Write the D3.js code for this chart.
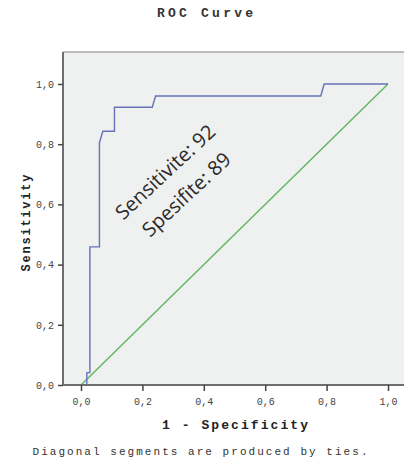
<!DOCTYPE html>
<html>
<head>
<meta charset="utf-8">
<script src="https://cdn.jsdelivr.net/npm/d3@7"></script>
<style>
  html, body { margin: 0; padding: 0; background: #fff; }
</style>
</head>
<body>
<div id="chart"></div>
<script>
// ROC curve (SPSS style)
const fpr = [0.019, 0.019, 0.029, 0.029, 0.060, 0.060, 0.071, 0.109, 0.109, 0.232, 0.243, 0.781, 0.792, 1.0];
const tpr = [0.0,   0.041, 0.041, 0.459, 0.459, 0.805, 0.843, 0.843, 0.923, 0.923, 0.960, 0.960, 1.0,   1.0];
const diagX = [0, 1];
const diagY = [0, 1];
const tickValues = [0, 0.2, 0.4, 0.6, 0.8, 1.0];
const tickLabels = ['0,0', '0,2', '0,4', '0,6', '0,8', '1,0'];
const annotation = ['Sensitivite: 92', 'Spesifite: 89'];

const W = 404, H = 470;
const MONO = '"Liberation Mono", "DejaVu Sans Mono", monospace';

const svg = d3.select('#chart').append('svg')
  .attr('width', W).attr('height', H);

const x = d3.scaleLinear().domain([0, 1]).range([81, 388]);
const y = d3.scaleLinear().domain([0, 1]).range([385, 84]);

// marco del área de gráfico
const frame = { left: 63, top: 52, right: 404, bottom: 385 };
svg.append('rect')
  .attr('x', frame.left).attr('y', frame.top)
  .attr('width', frame.right - frame.left).attr('height', frame.bottom - frame.top)
  .attr('fill', '#eff0f0');

// líneas
const line = d3.line().x(d => x(d[0])).y(d => y(d[1]));

svg.append('path')
  .datum(d3.zip(diagX, diagY))
  .attr('d', line)
  .attr('fill', 'none')
  .attr('stroke', '#5cb85c')
  .attr('stroke-width', 1.4);

svg.append('path')
  .datum(d3.zip(fpr, tpr))
  .attr('d', line)
  .attr('fill', 'none')
  .attr('stroke', '#6673b8')
  .attr('stroke-width', 1.4);

// borde superior
svg.append('line')
  .attr('x1', frame.left).attr('x2', frame.right)
  .attr('y1', frame.top).attr('y2', frame.top)
  .attr('stroke', '#a8a8a8').attr('stroke-width', 1.5);

// ejes
const fmt = d => tickLabels[tickValues.indexOf(d)];

const xAxis = svg.append('g')
  .attr('transform', `translate(0,${frame.bottom})`)
  .call(d3.axisBottom(x).tickValues(tickValues).tickFormat(fmt).tickSize(6).tickPadding(7).tickSizeOuter(0));
xAxis.select('.domain').attr('d', `M${frame.left},0H${frame.right}`);

const yAxis = svg.append('g')
  .attr('transform', `translate(${frame.left},0)`)
  .call(d3.axisLeft(y).tickValues(tickValues).tickFormat(fmt).tickSize(5).tickPadding(4).tickSizeOuter(0));
yAxis.select('.domain').attr('d', `M0,${frame.top}V${frame.bottom}`);

[xAxis, yAxis].forEach(g => {
  g.select('.domain').attr('stroke', '#6e6e6e').attr('stroke-width', 2);
  g.selectAll('.tick line').attr('stroke', '#444').attr('stroke-width', 1.5);
  g.selectAll('.tick text')
    .attr('font-family', MONO)
    .attr('font-size', 10)
    .attr('fill', '#444');
});

// títulos
svg.append('text')
  .attr('x', 205).attr('y', 17)
  .attr('text-anchor', 'middle')
  .attr('font-family', MONO).attr('font-weight', 'bold').attr('font-size', 13)
  .attr('fill', '#333')
  .attr('textLength', 96).attr('lengthAdjust', 'spacing')
  .text('ROC Curve');

svg.append('text')
  .attr('x', 235).attr('y', 429)
  .attr('text-anchor', 'middle')
  .attr('font-family', MONO).attr('font-weight', 'bold').attr('font-size', 13)
  .attr('fill', '#222')
  .attr('textLength', 146).attr('lengthAdjust', 'spacing')
  .text('1 - Specificity');

svg.append('text')
  .attr('transform', 'translate(30,223) rotate(-90)')
  .attr('text-anchor', 'middle')
  .attr('font-family', MONO).attr('font-weight', 'bold').attr('font-size', 12)
  .attr('fill', '#222')
  .attr('textLength', 97).attr('lengthAdjust', 'spacing')
  .text('Sensitivity');

svg.append('text')
  .attr('x', 200).attr('y', 455)
  .attr('text-anchor', 'middle')
  .attr('font-family', MONO).attr('font-size', 11)
  .attr('fill', '#333')
  .attr('textLength', 335).attr('lengthAdjust', 'spacing')
  .text('Diagonal segments are produced by ties.');

// anotación rotada
const ann = svg.append('g')
  .attr('transform', 'translate(170,177) rotate(-43)');
ann.selectAll('text')
  .data(annotation)
  .join('text')
  .attr('x', 0)
  .attr('y', (d, i) => i * 31)
  .attr('text-anchor', 'middle')
  .attr('font-family', '"Open Sans", "Noto Sans", sans-serif')
  .attr('font-size', 20)
  .attr('fill', '#2a2a2a')
  .text(d => d);
</script>
</body>
</html>
